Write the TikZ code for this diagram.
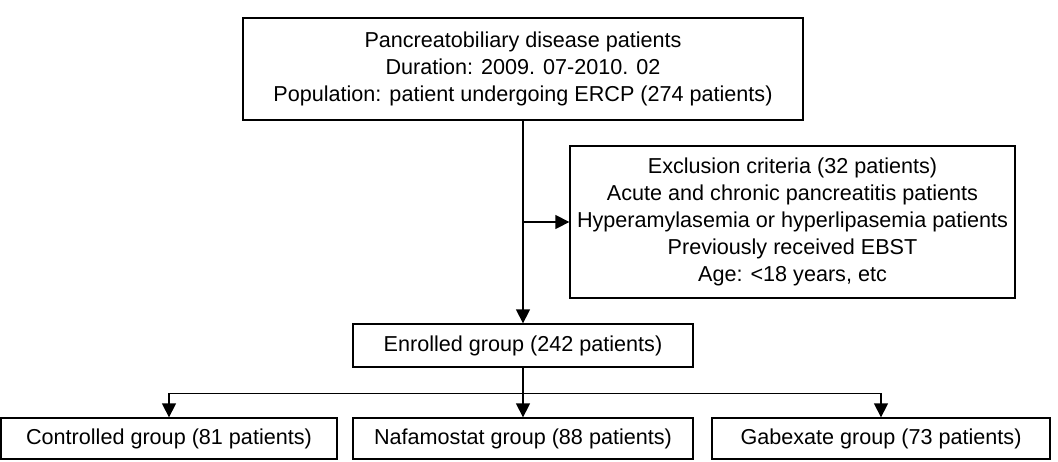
\documentclass[tikz,border=0pt]{standalone}
\usepackage{fontspec}
\setmainfont{Liberation Sans}
\usepackage{tikz}
\usetikzlibrary{arrows.meta}

\begin{document}
\begin{tikzpicture}[x=1pt,y=-1pt,
        line width=1.3pt,
        font=\fontsize{21.6}{27}\selectfont,
        b/.style={draw, fill=white, align=center,
                        inner sep=0pt, minimum height=41pt},
        a/.style={-{Triangle[width=14pt,length=14pt]}}]
    \useasboundingbox (0,0) rectangle (1058,461);
    \node[b, minimum width=560pt, minimum height=102pt] (pop) at (523,69)
        {Pancreatobiliary disease patients\\
         Duration: 2009. 07-2010. 02\\
         Population: patient undergoing ERCP (274 patients)};
    \node[b, minimum width=445pt, minimum height=152pt] (excl) at (792.5,222)
        {Exclusion criteria (32 patients)\\
         Acute and chronic pancreatitis patients\\
         Hyperamylasemia or hyperlipasemia patients\\
         Previously received EBST\\
         Age: {<}18 years, etc};
    \node[b, minimum width=340pt, minimum height=43pt] (enr) at (523,345.5)
        {Enrolled group (242 patients)};
    \node[b, minimum width=336pt] (ctrl) at (169,438.5)
        {Controlled group (81 patients)};
    \node[b, minimum width=340pt] (naf) at (523,438.5)
        {Nafamostat group (88 patients)};
    \node[b, minimum width=338pt] (gab) at (881,438.5)
        {Gabexate group (73 patients)};
    \draw[a] (pop) -- (enr);
    \coordinate (s) at (pop.south |- excl.west);
    \draw[a] (s) -- (excl.west);
    \draw (enr.south) -- ++(0,25.5) coordinate (f);
    \draw[a] (f) -| (ctrl.north);
    \draw[a] (f) -| (gab.north);
    \draw[a] (f) -- (naf.north);
\end{tikzpicture}
\end{document}
